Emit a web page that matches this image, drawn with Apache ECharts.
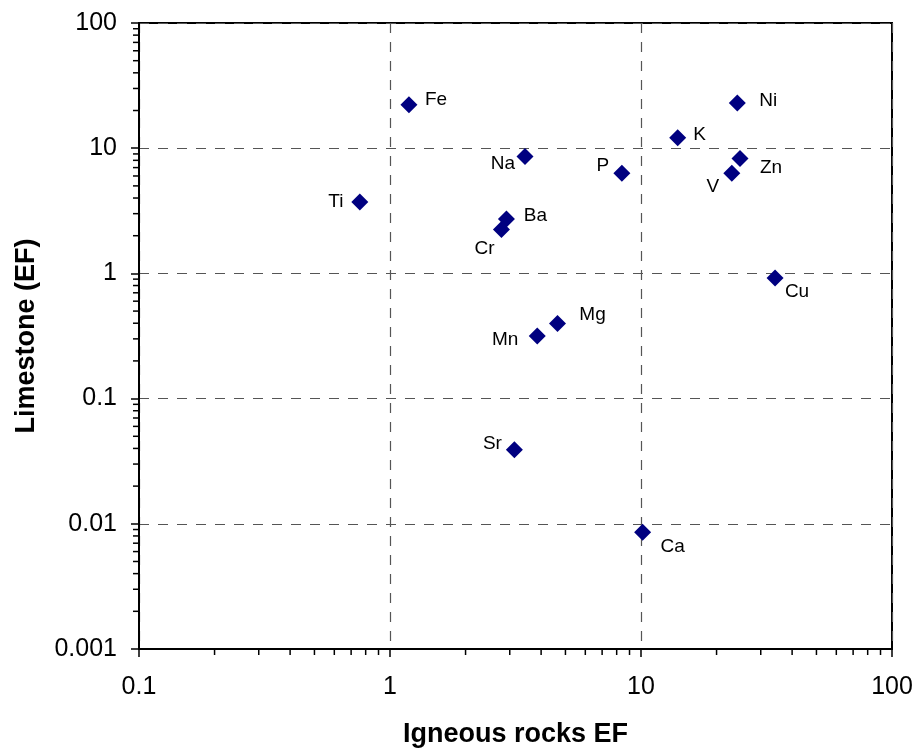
<!DOCTYPE html>
<html>
<head>
<meta charset="utf-8">
<script src="https://cdn.jsdelivr.net/npm/echarts@6/dist/echarts.min.js"></script>
<style>
html, body { margin: 0; padding: 0; background: #fff; }
#chart { width: 918px; height: 750px; }
</style>
</head>
<body>
<div id="chart"></div>
<script>
// element names and enrichment factors
const elements = ['Fe', 'Ti', 'Na', 'Ba', 'Cr', 'P', 'K', 'Ni', 'Zn', 'V', 'Cu', 'Mg', 'Mn', 'Sr', 'Ca'];
const igneousEF = [1.19, 0.758, 3.45, 2.91, 2.78, 8.39, 14.0, 24.2, 24.8, 23.0, 34.2, 4.65, 3.86, 3.13, 10.15];
const limestoneEF = [22.2, 3.72, 8.57, 2.72, 2.24, 6.30, 12.1, 23.0, 8.26, 6.30, 0.918, 0.398, 0.316, 0.039, 0.00857];

// label placement next to each point (px)
const labelOffsets = [
    [27, -5], [-24, 0], [-22, 7], [29, -3], [-17, 19], [-19, -8], [22, -3], [31, -2],
    [31, 9], [-19, 13], [22, 14], [35, -9], [-32, 4], [-22, -6], [30, 15]
];

// axis ticks
const xTicks = [0.1, 1, 10, 100];
const yTicks = [0.001, 0.01, 0.1, 1, 10, 100];
const minorMult = [2, 3, 4, 5, 6, 7, 8, 9];

const FONT = '"Liberation Sans", Arial, Helvetica, sans-serif';

function minorValues(ticks) {
    let arr = [];
    for (let i = 0; i < ticks.length - 1; i++) {
        minorMult.forEach(m => arr.push(+(ticks[i] * m).toPrecision(6)));
    }
    return arr;
}

function fmt(v) {
    return String(parseFloat(Number(v).toPrecision(6)));
}

const chart = echarts.init(document.getElementById('chart'));

const pointData = elements.map((name, i) => ({
    name: name,
    value: [igneousEF[i], limestoneEF[i]],
    label: { offset: labelOffsets[i] }
}));

const axisCommon = {
    type: 'log',
    logBase: 10,
    nameLocation: 'middle',
    nameTextStyle: { fontFamily: FONT, fontSize: 27, fontWeight: 'bold', color: '#000' },
    axisLine: { show: true, onZero: false, lineStyle: { color: '#000', width: 2 } },
    axisTick: { show: true, inside: false, length: 8, lineStyle: { color: '#000', width: 1.5 } },
    axisLabel: { fontFamily: FONT, fontSize: 25, color: '#000', formatter: fmt },
    splitLine: { show: true, lineStyle: { color: '#555', width: 1.2, type: [10, 9] } },
    minorTick: { show: false }
};

const option = {
    backgroundColor: '#fff',
    animation: false,
    grid: {
        left: 139, right: 26, top: 23, bottom: 101,
        outerBoundsMode: 'none',
        containLabel: false,
        show: true, borderColor: '#000', borderWidth: 2, backgroundColor: 'transparent'
    },
    xAxis: Object.assign({}, axisCommon, {
        name: 'Igneous rocks EF',
        nameGap: 72,
        min: xTicks[0],
        max: xTicks[xTicks.length - 1],
        axisLabel: Object.assign({}, axisCommon.axisLabel, { margin: 26 })
    }),
    yAxis: Object.assign({}, axisCommon, {
        name: 'Limestone (EF)',
        nameGap: 99,
        nameRotate: 90,
        min: yTicks[0],
        max: yTicks[yTicks.length - 1],
        axisLabel: Object.assign({}, axisCommon.axisLabel, { margin: 22 })
    }),
    series: [
        {
            // minor ticks along x axis
            type: 'custom',
            silent: true,
            clip: false,
            data: minorValues(xTicks).map(v => [v]),
            encode: { x: 0 },
            renderItem: function (params, api) {
                const p = api.coord([api.value(0), yTicks[0]]);
                return {
                    type: 'line',
                    shape: { x1: p[0], y1: p[1], x2: p[0], y2: p[1] + 6 },
                    style: { stroke: '#000', lineWidth: 1.5 }
                };
            }
        },
        {
            // minor ticks along y axis
            type: 'custom',
            silent: true,
            clip: false,
            data: minorValues(yTicks).map(v => [xTicks[0], v]),
            encode: { x: 0, y: 1 },
            renderItem: function (params, api) {
                const p = api.coord([xTicks[0], api.value(1)]);
                return {
                    type: 'line',
                    shape: { x1: p[0] - 6, y1: p[1], x2: p[0], y2: p[1] },
                    style: { stroke: '#000', lineWidth: 1.5 }
                };
            }
        },
        {
            type: 'scatter',
            symbol: 'diamond',
            symbolSize: 17,
            itemStyle: { color: '#000080', opacity: 1 },
            label: {
                show: true,
                position: 'inside',
                formatter: '{b}',
                fontFamily: FONT,
                fontSize: 19,
                color: '#000'
            },
            data: pointData
        }
    ]
};

chart.setOption(option);
</script>
</body>
</html>
